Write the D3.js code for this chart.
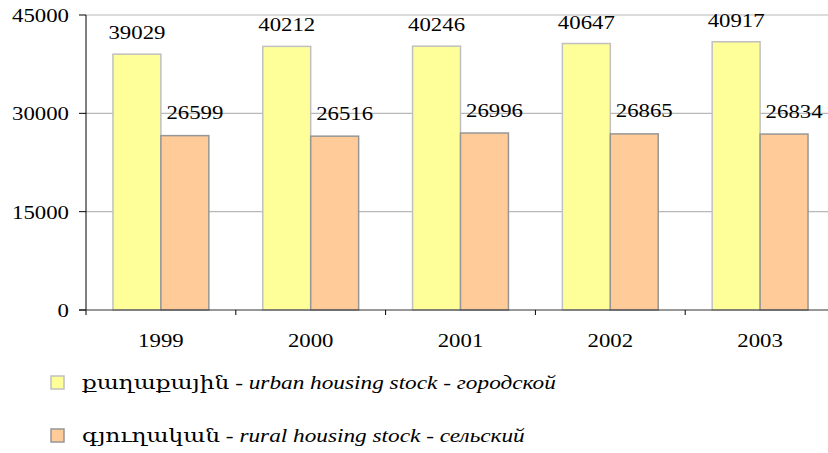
<!DOCTYPE html>
<html>
<head>
<meta charset="utf-8">
<script src="https://cdn.jsdelivr.net/npm/d3@7"></script>
<style>
  html, body { margin: 0; padding: 0; background: #fff; }
  svg { display: block; }
  text { font-family: "Liberation Serif", "Times New Roman", "DejaVu Serif", serif; fill: #000; }
</style>
</head>
<body>
<svg id="chart" width="828" height="453"></svg>
<script>
const years = ["1999", "2000", "2001", "2002", "2003"];
const urban = [39029, 40212, 40246, 40647, 40917];
const rural = [26599, 26516, 26996, 26865, 26834];
const yTicks = [0, 15000, 30000, 45000];
const legendArm = ["քաղաքային", "գյուղական"];
const legendEng = ["urban housing stock", "rural housing stock"];
const legendRus = ["городской", "сельский"];

const svg = d3.select("#chart");
const SX = 1.2, FS = 19, LSX = 1.225;
const colors = { urban: { fill: "#FFFF99", stroke: "#C0C0C0" }, rural: { fill: "#FFCC99", stroke: "#969696" } };

const x = d3.scaleBand().domain(years).range([86, 835]).padding(0);
const y = d3.scaleLinear().domain([0, 45000]).range([310, 15]);

function stretchedText(parent, tx, ty, str, anchor) {
  const g = parent.append("g").attr("transform", `translate(${tx},${ty})`);
  return g.append("text").attr("transform", `scale(${SX},1)`)
    .attr("text-anchor", anchor || "middle").attr("font-size", FS).text(str);
}

// gridlines
svg.append("g").selectAll("line").data(yTicks.filter(d => d > 0)).join("line")
  .attr("x1", 86).attr("x2", 828)
  .attr("y1", d => y(d)).attr("y2", d => y(d))
  .attr("stroke", "#B8B8B8").attr("stroke-width", 1.2);

// bars
const bw = x.bandwidth() * 0.32, off = x.bandwidth() * 0.18;
const bars = svg.append("g");
bars.selectAll("rect.u").data(years).join("rect").attr("class", "u")
  .attr("x", d => x(d) + off).attr("width", bw)
  .attr("y", (d, i) => y(urban[i])).attr("height", (d, i) => y(0) - y(urban[i]))
  .attr("fill", colors.urban.fill).attr("stroke", colors.urban.stroke).attr("stroke-width", 1.5);
bars.selectAll("rect.r").data(years).join("rect").attr("class", "r")
  .attr("x", d => x(d) + off + bw).attr("width", bw)
  .attr("y", (d, i) => y(rural[i])).attr("height", (d, i) => y(0) - y(rural[i]))
  .attr("fill", colors.rural.fill).attr("stroke", colors.rural.stroke).attr("stroke-width", 1.5);

// axes
const axisG = svg.append("g");
axisG.append("line").attr("x1", 86).attr("x2", 86).attr("y1", y(45000)).attr("y2", 315)
  .attr("stroke", "#000").attr("stroke-width", 1);
axisG.append("line").attr("x1", 79).attr("x2", 835).attr("y1", y(0)).attr("y2", y(0))
  .attr("stroke", "#333").attr("stroke-width", 1.2);
axisG.selectAll("line.yt").data(yTicks).join("line").attr("class", "yt")
  .attr("x1", 79).attr("x2", 86).attr("y1", d => y(d)).attr("y2", d => y(d))
  .attr("stroke", "#000");
axisG.selectAll("line.xt").data(years.slice(1)).join("line").attr("class", "xt")
  .attr("x1", d => x(d)).attr("x2", d => x(d)).attr("y1", y(0)).attr("y2", 315)
  .attr("stroke", "#000");

yTicks.forEach(t => stretchedText(svg, 69, y(t) + 7, String(t), "end"));
years.forEach(yr => stretchedText(svg, x(yr) + x.bandwidth() / 2, 347, yr, "middle"));

// value labels
years.forEach((yr, i) => {
  stretchedText(svg, x(yr) + off + bw / 2, y(urban[i]) - 15, String(urban[i]), "middle");
  stretchedText(svg, x(yr) + off + bw * 1.5 + 10, y(rural[i]) - 16.5, String(rural[i]), "middle");
});

// legend
const leg = [colors.urban, colors.rural];
[0, 1].forEach(k => {
  const ly = 389 + k * 53;
  svg.append("rect").attr("x", 51).attr("y", ly - 13).attr("width", 13).attr("height", 13)
    .attr("fill", leg[k].fill).attr("stroke", leg[k].stroke).attr("stroke-width", 1.5);
  const g = svg.append("g").attr("transform", `translate(82,${ly})`);
  const t = g.append("text").attr("transform", `scale(${LSX},1)`).attr("font-size", FS);
  t.append("tspan").text(legendArm[k] + " - ");
  t.append("tspan").attr("font-style", "italic").text(legendEng[k]);
  t.append("tspan").text(" - ");
  t.append("tspan").attr("font-style", "italic").text(legendRus[k]);
});
</script>
</body>
</html>
